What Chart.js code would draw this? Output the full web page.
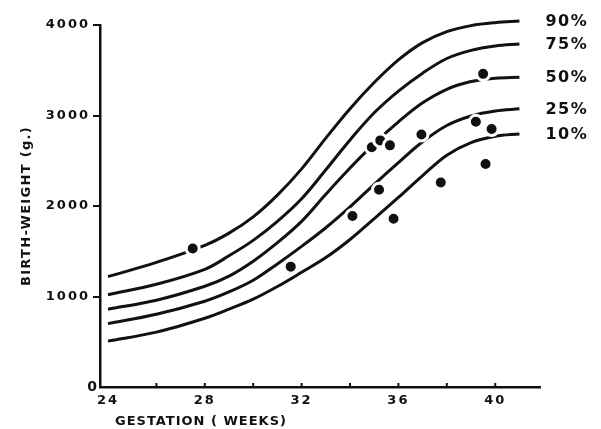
<!DOCTYPE html>
<html>
<head>
<meta charset="utf-8">
<script src="https://cdn.jsdelivr.net/npm/chart.js@4.4.0/dist/chart.umd.min.js"></script>
<style>
  html, body { margin: 0; padding: 0; background: #fff; }
  #wrap { width: 601px; height: 429px; }
</style>
</head>
<body>
<div id="wrap"><canvas id="c" width="601" height="429"></canvas></div>
<script>
// Gestation weeks at which centile curves were read
const weeks = [24, 26, 28, 29, 30, 31, 32, 33, 34, 35, 36, 37, 38, 39, 40, 41];
// Centile curves, birth-weight (g)
const p90 = [1220, 1377, 1565, 1700, 1880, 2120, 2410, 2750, 3075, 3364, 3614, 3805, 3927, 3993, 4026, 4044];
const p75 = [1020, 1135, 1300, 1450, 1620, 1830, 2080, 2400, 2730, 3030, 3270, 3468, 3630, 3720, 3768, 3790];
const p50 = [860, 959, 1113, 1225, 1390, 1595, 1830, 2130, 2420, 2690, 2930, 3140, 3290, 3375, 3412, 3423];
const p25 = [700, 804, 948, 1050, 1179, 1360, 1554, 1760, 1990, 2240, 2480, 2710, 2890, 2995, 3050, 3074];
const p10 = [507, 606, 760, 860, 970, 1110, 1267, 1430, 1630, 1860, 2094, 2336, 2560, 2700, 2770, 2796];
const centileLabels = ['90%', '75%', '50%', '25%', '10%'];
// Observed infants
const obsWeeks = [27.5, 31.55, 34.1, 34.9, 35.2, 35.25, 35.65, 35.8, 36.95, 37.75, 39.2, 39.5, 39.6, 39.85];
const obsWeights = [1530, 1330, 1890, 2650, 2180, 2725, 2670, 1860, 2790, 2260, 2930, 3460, 2465, 2850];
// Axis ticks
const xTicks = [24, 26, 28, 30, 32, 34, 36, 38, 40];
const xLabelTicks = [24, 28, 32, 36, 40];
const yTicks = [0, 1000, 2000, 3000, 4000];
const xTitle = 'GESTATION ( WEEKS)';
const yTitle = 'BIRTH-WEIGHT (g.)';

const INK = '#111111';
const FONT = 'DejaVu Sans';

const curves = [p90, p75, p50, p25, p10];
const lineSets = curves.map((arr, i) => ({
  type: 'line',
  label: centileLabels[i],
  data: weeks.map((w, j) => ({ x: w, y: arr[j] })),
  borderColor: INK,
  borderWidth: 3,
  pointRadius: 0,
  fill: false,
  tension: 0.35,
  clip: false,
  order: 2
}));

const dots = {
  type: 'scatter',
  label: 'cases',
  data: obsWeeks.map((w, j) => ({ x: w, y: obsWeights[j] })),
  backgroundColor: INK,
  borderColor: '#ffffff',
  borderWidth: 3,
  pointRadius: 6.5,
  order: 1
};

const extras = {
  id: 'extras',
  beforeDraw(chart) {
    chart.ctx.letterSpacing = '2px';
  },
  afterDatasetsDraw(chart) {
    const ctx = chart.ctx;
    const xs = chart.scales.x, ys = chart.scales.y;
    ctx.save();
    // inward x tick marks
    ctx.strokeStyle = INK;
    ctx.lineWidth = 2;
    xTicks.forEach(t => {
      if (t === 24) return;
      const px = xs.getPixelForValue(t);
      ctx.beginPath();
      ctx.moveTo(px, ys.bottom);
      ctx.lineTo(px, ys.bottom - 4);
      ctx.stroke();
    });
    ctx.fillStyle = INK;
    ctx.textBaseline = 'middle';
    // zero label on y axis (no tick mark)
    ctx.letterSpacing = '0px';
    ctx.textAlign = 'center';
    ctx.font = 'bold 14px ' + FONT;
    ctx.fillText(String(yTicks[0]), ys.right - 8, ys.getPixelForValue(yTicks[0]));
    // centile labels at the right end of each curve
    ctx.letterSpacing = '1.5px';
    ctx.font = 'bold 16px ' + FONT;
    ctx.textAlign = 'left';
    curves.forEach((arr, i) => {
      const y = ys.getPixelForValue(arr[arr.length - 1]);
      ctx.fillText(centileLabels[i], xs.getPixelForValue(weeks[weeks.length - 1]) + 26, y + 1);
    });
    // x-axis title
    ctx.letterSpacing = '1px';
    ctx.font = 'bold 13px ' + FONT;
    ctx.fillText(xTitle, xs.left + 15, 422);
    // y-axis title
    ctx.translate(27, (ys.top + ys.bottom) / 2);
    ctx.rotate(-Math.PI / 2);
    ctx.textAlign = 'center';
    ctx.letterSpacing = '1.3px';
    ctx.fillText(yTitle, 0, 0);
    ctx.restore();
  }
};

new Chart(document.getElementById('c'), {
  type: 'scatter',
  data: { datasets: [dots].concat(lineSets) },
  options: {
    responsive: false,
    animation: false,
    devicePixelRatio: 1,
    layout: { padding: { left: 0, right: 61, top: 25, bottom: 0 } },
    plugins: { legend: { display: false }, tooltip: { enabled: false } },
    scales: {
      x: {
        type: 'linear',
        min: 23.67,
        max: 41.85,
        afterBuildTicks(scale) { scale.ticks = xLabelTicks.map(v => ({ value: v })); },
        afterFit(scale) { scale.height = 42; },
        ticks: {
          color: INK,
          font: { family: FONT, size: 13, weight: 'bold' },
          padding: 6,
          maxRotation: 0,
          autoSkip: false,
          callback: v => String(v)
        },
        grid: { display: true, drawOnChartArea: false, drawTicks: false, color: 'transparent' },
        border: { display: true, color: INK, width: 2.5 }
      },
      y: {
        type: 'linear',
        min: 0,
        max: 4000,
        afterBuildTicks(scale) { scale.ticks = yTicks.map(v => ({ value: v })); },
        afterFit(scale) { scale.width = 100; },
        ticks: {
          color: INK,
          font: { family: FONT, size: 13, weight: 'bold' },
          padding: 3,
          callback: v => (v === 0 ? '' : String(v))
        },
        grid: {
          drawOnChartArea: false,
          drawTicks: true,
          tickLength: 7,
          lineWidth: 2,
          color: c => (c.tick && c.tick.value === 0) ? 'rgba(0,0,0,0)' : INK
        },
        border: { display: true, color: INK, width: 2.5 },
        title: { display: false }
      }
    }
  },
  plugins: [extras]
});
</script>
</body>
</html>
